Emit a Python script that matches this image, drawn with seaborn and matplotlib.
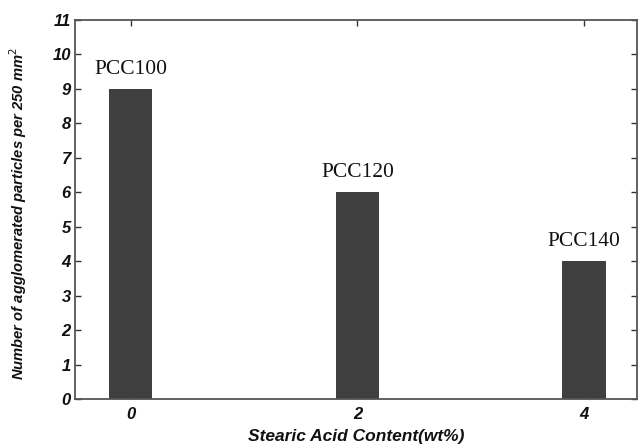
import matplotlib
matplotlib.use("Agg")
import matplotlib.pyplot as plt
import seaborn as sns
import pandas as pd

# Data
content = ["0", "2", "4"]
counts = [9, 6, 4]
labels = ["PCC100", "PCC120", "PCC140"]
yticks = list(range(0, 12))

sns.set_style("ticks")
plt.rcParams['font.family'] = ['Liberation Sans', 'DejaVu Sans']

df = pd.DataFrame({"content": content, "count": counts})

fig = plt.figure(figsize=(6.38, 4.44), dpi=100)
ax = fig.add_axes([75/638, 45/444, 562/638, 379/444])

sns.barplot(data=df, x="content", y="count", order=content, color="#3f3f3f",
            saturation=1, width=0.19, ax=ax, edgecolor="none")

for i, (v, lab) in enumerate(zip(counts, labels)):
    ax.text(i, v + 0.3, lab, ha="center", va="bottom", fontsize=15.5,
            family="Liberation Serif", color="#111111")

ax.set_xlim(-0.247, 2.234)
ax.set_ylim(0, 11)
ax.set_yticks(yticks)
ax.set_yticklabels([str(t) for t in yticks], fontsize=12, fontweight="bold", fontstyle="italic")
ax.set_xticks(range(len(content)))
ax.set_xticklabels(content, fontsize=12, fontweight="bold", fontstyle="italic")
ax.tick_params(direction="in", length=4, width=1, top=True, right=True, colors="#333333",
               labelcolor="#111111")
ax.tick_params(axis="y", pad=3)
ax.tick_params(axis="x", pad=6)

for s in ax.spines.values():
    s.set_visible(True)
    s.set_linewidth(1.3)
    s.set_color("#555555")

ax.set_xlabel("Stearic Acid Content(wt%)", fontsize=12.5, fontweight="bold", fontstyle="italic",
              labelpad=5, color="#111111")
ax.set_ylabel("Number of agglomerated particles per 250 mm$^2$", fontsize=10.6, fontweight="bold",
              fontstyle="italic", color="#111111")
ax.yaxis.set_label_coords(-0.081, 0.49)

fig.savefig("out.png", dpi=100)
